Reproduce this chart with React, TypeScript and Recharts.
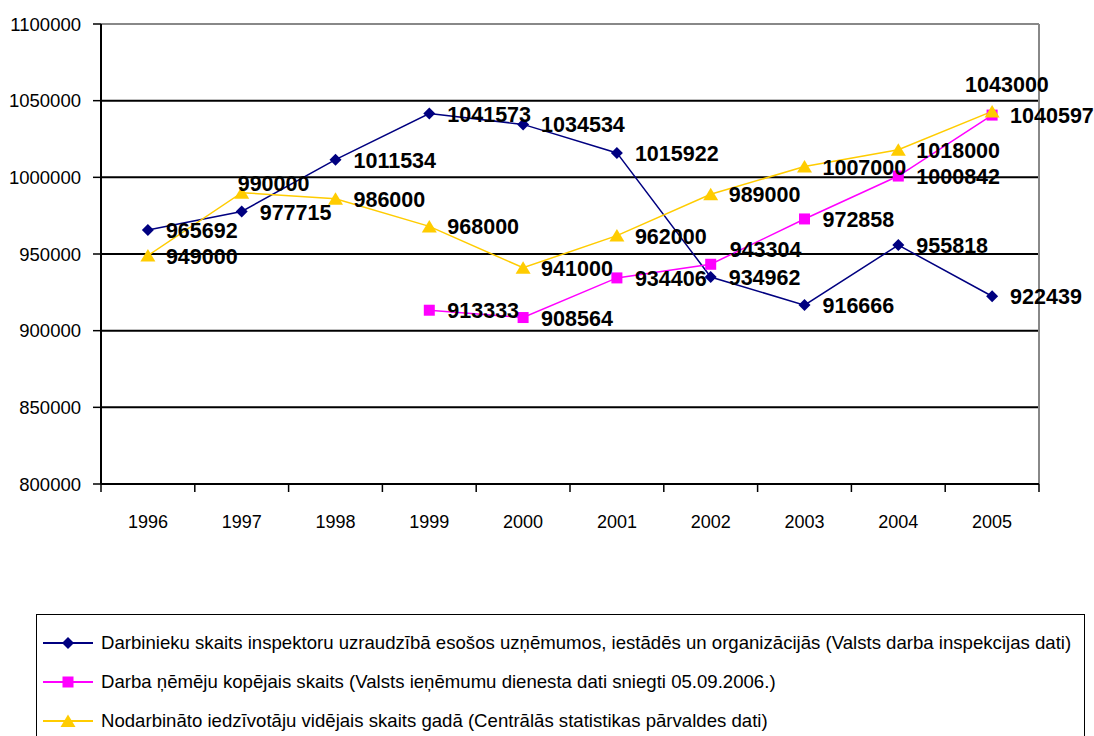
import React from 'react';
import { ComposedChart, Line, XAxis, YAxis, CartesianGrid, Legend, LabelList } from 'recharts';

const years = ['1996', '1997', '1998', '1999', '2000', '2001', '2002', '2003', '2004', '2005'];
const inspectorateWorkers = [965692, 977715, 1011534, 1041573, 1034534, 1015922, 934962, 916666, 955818, 922439];
const employeesTotal = [null, null, null, 913333, 908564, 934406, 943304, 972858, 1000842, 1040597];
const employedAverage = [949000, 990000, 986000, 968000, 941000, 962000, 989000, 1007000, 1018000, 1043000];
const yTicks = [800000, 850000, 900000, 950000, 1000000, 1050000, 1100000];
const seriesNames = [
  'Darbinieku skaits inspektoru uzraudzībā esošos uzņēmumos, iestādēs un organizācijās (Valsts darba inspekcijas dati)',
  'Darba ņēmēju kopējais skaits (Valsts ieņēmumu dienesta dati sniegti 05.09.2006.)',
  'Nodarbināto iedzīvotāju vidējais skaits gadā (Centrālās statistikas pārvaldes dati)',
];

const data = years.map((year, i) => ({
  year,
  a: inspectorateWorkers[i],
  b: employeesTotal[i],
  c: employedAverage[i],
}));

const W = 1094;
const H = 736;
const M = { top: 24, right: 55, left: 0, bottom: 0 };
const Y_W = 101;
const X_H = 252;
const PLOT_W = W - Y_W - M.right;
const FONT = '"Liberation Sans", Arial, sans-serif';

const NAVY = '#000080';
const PINK = '#FF00FF';
const GOLD = '#FFCC00';

const Diamond = ({ cx, cy, fill, r = 6 }: any) => (
  <path d={`M${cx},${cy - r} L${cx + r},${cy} L${cx},${cy + r} L${cx - r},${cy} Z`} fill={fill} />
);
const Square = ({ cx, cy, fill, r = 5.5 }: any) => (
  <rect x={cx - r} y={cy - r} width={2 * r} height={2 * r} fill={fill} />
);
const Triangle = ({ cx, cy, fill, r = 7.5 }: any) => (
  <path d={`M${cx},${cy - r + 1} L${cx + r},${cy + r - 1.5} L${cx - r},${cy + r - 1.5} Z`} fill={fill} />
);

const makeDot = (Shape: any, fill: string) => (props: any) => {
  const { cx, cy, index, value } = props;
  if (cx == null || cy == null || value == null) return <g key={`d${index}`} />;
  return (
    <g key={`d${index}`}>
      <Shape cx={cx} cy={cy} fill={fill} />
    </g>
  );
};

// label placement exceptions keyed by data index (default: right of the point)
const nudges: Record<string, Record<number, [number, number]>> = {
  a: {},
  b: { 6: [19, -14] },
  c: { 1: [-4, -9], 9: [-27, -26] },
};

const makeLabel = (key: string) => (props: any) => {
  const { x, y, value, index } = props;
  if (value == null || x == null || y == null) return null;
  const [dx, dy] = nudges[key][index] || [18, 1];
  return (
    <text
      x={x + dx}
      y={y + dy}
      dominantBaseline="central"
      textAnchor="start"
      fontFamily={FONT}
      fontWeight="bold"
      fontSize={21.5}
      fill="#000"
    >
      {value}
    </text>
  );
};

const XTick = (props: any) => {
  const { x, y, payload, index } = props;
  const bw = PLOT_W / years.length;
  return (
    <g>
      <line x1={x - bw / 2} y1={y} x2={x - bw / 2} y2={y + 8} stroke="#000" strokeWidth={1.5} />
      {index === years.length - 1 && (
        <line x1={x + bw / 2} y1={y} x2={x + bw / 2} y2={y + 8} stroke="#000" strokeWidth={1.5} />
      )}
      <text x={x} y={y + 44} textAnchor="middle" fontFamily={FONT} fontSize={18} fill="#000">
        {payload.value}
      </text>
    </g>
  );
};

const legendItems = [
  { name: seriesNames[0], color: NAVY, Shape: Diamond },
  { name: seriesNames[1], color: PINK, Shape: Square },
  { name: seriesNames[2], color: GOLD, Shape: Triangle },
];

const LegendBox = () => (
  <div
    style={{
      border: '1px solid #000',
      height: 140,
      boxSizing: 'border-box',
      position: 'relative',
      fontFamily: FONT,
      fontSize: 18.6,
      color: '#000',
    }}
  >
    {legendItems.map((it, i) => (
      <div
        key={i}
        style={{
          position: 'absolute',
          left: 5,
          top: 28 + i * 39 - 11,
          height: 22,
          display: 'flex',
          alignItems: 'center',
          whiteSpace: 'nowrap',
        }}
      >
        <svg width={52} height={20} style={{ display: 'block' }}>
          <line x1={1} y1={10} x2={51} y2={10} stroke={it.color} strokeWidth={2} />
          <it.Shape cx={26} cy={10} fill={it.color} />
        </svg>
        <span style={{ marginLeft: 7 }}>{it.name}</span>
      </div>
    ))}
  </div>
);

export default function App() {
  return (
    <div style={{ position: 'absolute', left: 0, top: 0, width: W, height: H, overflow: 'hidden', background: '#fff' }}>
      <ComposedChart width={W} height={H} data={data} margin={M}>
        <CartesianGrid vertical={false} stroke="#000" strokeWidth={2} />
        <CartesianGrid
          stroke="#888"
          strokeWidth={2}
          horizontalCoordinatesGenerator={({ offset }: any) => [offset.top]}
          verticalCoordinatesGenerator={({ offset }: any) => [offset.left + offset.width]}
        />
        <XAxis
          dataKey="year"
          type="category"
          scale="band"
          height={X_H}
          tickSize={0}
          tickMargin={0}
          tickLine={false}
          axisLine={{ stroke: '#000', strokeWidth: 2 }}
          tick={<XTick />}
          interval={0}
        />
        <YAxis
          type="number"
          domain={[800000, 1100000]}
          ticks={yTicks}
          width={Y_W}
          tickSize={8}
          tickMargin={12}
          interval={0}
          axisLine={{ stroke: '#000', strokeWidth: 2 }}
          tickLine={{ stroke: '#000', strokeWidth: 1.5 }}
          tick={{ fill: '#000', fontFamily: FONT, fontSize: 18.5 }}
        />
        <Legend
          layout="horizontal"
          verticalAlign="middle"
          align="center"
          wrapperStyle={{ left: 36, top: 614, width: 1049 }}
          content={() => <LegendBox />}
        />
        <Line
          dataKey="a"
          name={seriesNames[0]}
          stroke={NAVY}
          strokeWidth={1.5}
          dot={makeDot(Diamond, NAVY)}
          activeDot={false}
          isAnimationActive={false}
        >
          <LabelList dataKey="a" content={makeLabel('a')} />
        </Line>
        <Line
          dataKey="b"
          name={seriesNames[1]}
          stroke={PINK}
          strokeWidth={1.5}
          dot={makeDot(Square, PINK)}
          activeDot={false}
          isAnimationActive={false}
        >
          <LabelList dataKey="b" content={makeLabel('b')} />
        </Line>
        <Line
          dataKey="c"
          name={seriesNames[2]}
          stroke={GOLD}
          strokeWidth={1.5}
          dot={makeDot(Triangle, GOLD)}
          activeDot={false}
          isAnimationActive={false}
        >
          <LabelList dataKey="c" content={makeLabel('c')} />
        </Line>
      </ComposedChart>
    </div>
  );
}
